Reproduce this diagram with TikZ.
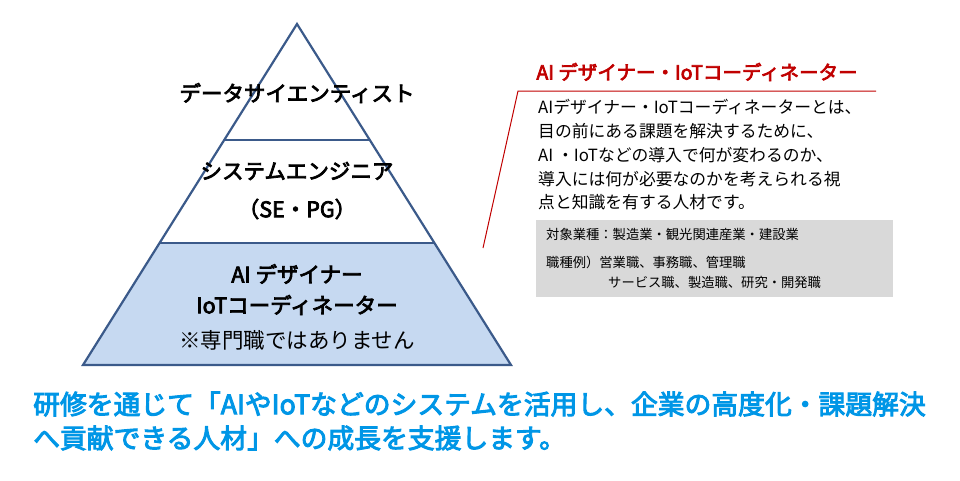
\documentclass[tikz,border=0pt]{standalone}
\usepackage{fontspec}
\setmainfont{Noto Sans CJK JP}
\newfontfamily\jpb[FakeBold=3.5]{Noto Sans CJK JP}
\definecolor{pyr}{HTML}{3B5A8A}
\definecolor{pfill}{HTML}{C6D9F1}
\definecolor{dred}{HTML}{C00000}
\definecolor{gbox}{HTML}{D9D9D9}
\definecolor{bblue}{HTML}{0096E6}
\tikzset{
 ptxt/.style={font=\fontsize{21.5}{24}\selectfont\jpb, text=black},
 btxt/.style={font=\fontsize{16.8}{24}\selectfont, anchor=west, text=black, inner sep=0},
 gtxt/.style={font=\fontsize{13.3}{16}\selectfont, anchor=west, text=black, inner sep=0},
 ftxt/.style={font=\fontsize{26.8}{34}\selectfont\jpb, anchor=west, text=bblue, inner sep=0},
}
\begin{document}
\begin{tikzpicture}[x=1pt,y=-1pt]
\useasboundingbox (0,0) rectangle (960,480);
\coordinate (apex) at (297,24);
\coordinate (bl) at (83,365);
\coordinate (br) at (511,365);
\fill[pfill] (159.6,243) -- (434.4,243) -- (br) -- (bl) -- cycle;
\draw[pyr, line width=2.2pt, line join=miter] (apex) -- (br) -- (bl) -- cycle;
\draw[pyr, line width=2.2pt] (224,140) -- (370,140);
\draw[pyr, line width=2.2pt] (159.6,243) -- (434.4,243);
\node[ptxt] (t1) at (297,93) {データサイエンティスト};
\node[ptxt] (t2) at (297,171) {システムエンジニア};
\node[ptxt] (t3) at (297,209) {（SE・PG）};
\node[ptxt] (t4) at (297,274) {AI デザイナー};
\node[ptxt] (t5) at (297,305) {IoTコーディネーター};
\node[font=\fontsize{21.5}{24}\selectfont] (t6) at (297,340) {※専門職ではありません};
\draw[dred, line width=1pt] (483,248) -- (518,91) -- (876,91);
\node[font=\fontsize{19.5}{22}\selectfont\jpb, text=dred] (title) at (697,72) {AI デザイナー・IoTコーディネーター};
\node[btxt] (b1) at (538,107) {AIデザイナー・IoTコーディネーターとは、};
\node[btxt] (b2) at (538,131) {目の前にある課題を解決するために、};
\node[btxt] (b3) at (538,155) {AI ・IoTなどの導入で何が変わるのか、};
\node[btxt] (b4) at (538,179) {導入には何が必要なのかを考えられる視};
\node[btxt] (b5) at (538,202) {点と知識を有する人材です。};
\fill[gbox] (536,220) rectangle (893,297);
\node[gtxt] (g1) at (546,234) {対象業種：製造業・観光関連産業・建設業};
\node[gtxt] (g2) at (546,262) {職種例）営業職、事務職、管理職};
\node[gtxt] (g3) at (608,282) {サービス職、製造職、研究・開発職};
\node[ftxt] (f1) at (33,404) {研修を通じて「AIやIoTなどのシステムを活用し、企業の高度化・課題解決};
\node[ftxt] (f2) at (33,438) {へ貢献できる人材」への成長を支援します。};
\end{tikzpicture}
\end{document}
